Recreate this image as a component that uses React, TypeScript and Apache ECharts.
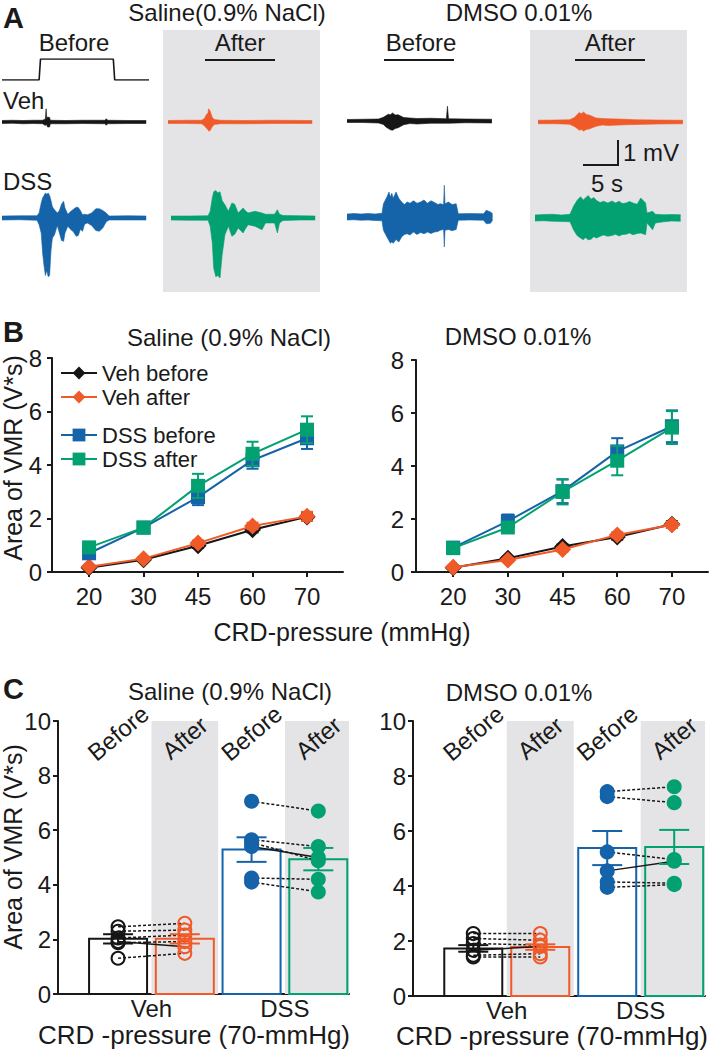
import React, { useEffect, useRef } from "react";
import * as echarts from "echarts";

// ---------------- Panel A: recordings (time s, upper envelope mV, lower envelope mV) -------------
const STIM_TRACE = [[0, 0], [5.3, 0], [5.5, 70], [15.9, 70], [16.1, 0], [21, 0]];

const SAL_VEH_BEFORE = [
  [0, 0.06, -0.06], [1.5, 0.07, -0.05], [3, 0.06, -0.07], [4.5, 0.07, -0.06], [5.8, 0.07, -0.07],
  [6.2, 0.12, -0.14], [6.3, 0.53, -0.1], [6.4, 0.12, -0.12], [6.5, 0.2, -0.2], [6.8, 0.18, -0.2],
  [6.9, 0.07, -0.07], [9, 0.06, -0.07], [11.5, 0.07, -0.06], [14.7, 0.07, -0.07], [14.9, 0.13, -0.13],
  [15.1, 0.07, -0.07], [18, 0.06, -0.06], [20.6, 0.06, -0.06],
];
const SAL_VEH_AFTER = [
  [0, 0.06, -0.06], [2.5, 0.07, -0.06], [4.8, 0.07, -0.07], [5.2, 0.14, -0.15], [5.5, 0.3, -0.25],
  [5.7, 0.35, -0.3], [5.8, 0.53, -0.36], [6.0, 0.45, -0.35], [6.3, 0.2, -0.2], [6.6, 0.1, -0.1],
  [7.5, 0.07, -0.07], [11, 0.06, -0.07], [15, 0.07, -0.06], [20.6, 0.06, -0.06],
];
const SAL_DSS_BEFORE = [
  [0, 0.08, -0.08], [2.5, 0.09, -0.07], [5.0, 0.09, -0.09], [5.3, 0.2, -0.27], [5.6, 0.6, -0.6],
  [5.8, 0.8, -1.4], [6.0, 0.9, -1.9], [6.2, 1.0, -2.3], [6.4, 0.95, -2.1], [6.6, 1.0, -2.35],
  [6.8, 0.9, -2.3], [7.0, 0.7, -1.3], [7.2, 0.45, -0.8], [7.5, 0.33, -0.67], [7.9, 0.2, -0.3],
  [8.2, 0.3, -0.6], [8.5, 0.55, -0.9], [8.8, 0.67, -0.93], [9.0, 0.4, -0.6], [9.4, 0.15, -0.33],
  [9.85, 0.27, -0.47], [10.2, 0.35, -0.55], [10.6, 0.43, -0.73], [10.9, 0.42, -0.7], [11.2, 0.3, -0.45],
  [11.5, 0.13, -0.53], [11.8, 0.15, -0.25], [12.2, 0.13, -0.2], [12.8, 0.2, -0.3], [13.4, 0.37, -0.5],
  [13.9, 0.37, -0.53], [14.4, 0.3, -0.4], [14.9, 0.2, -0.15], [15.3, 0.08, -0.08], [18, 0.09, -0.08],
  [20.6, 0.08, -0.08],
];
const SAL_DSS_AFTER = [
  [0, 0.08, -0.08], [2.5, 0.08, -0.09], [5.3, 0.09, -0.09], [5.6, 0.27, -0.33], [5.9, 0.8, -1.0],
  [6.1, 1.05, -2.0], [6.4, 1.1, -2.35], [6.7, 1.0, -2.3], [7.0, 1.05, -2.4], [7.3, 0.7, -1.5],
  [7.7, 0.53, -0.67], [8.2, 0.27, -0.33], [8.7, 0.6, -0.73], [9.1, 0.55, -0.65], [9.6, 0.2, -0.4],
  [10.3, 0.4, -0.6], [10.6, 0.3, -0.45], [11.0, 0.2, -0.27], [12.0, 0.27, -0.33], [13.0, 0.2, -0.47],
  [13.5, 0.15, -0.2], [14.8, 0.15, -0.2], [15.2, 0.33, -0.6], [15.5, 0.15, -0.2], [16.0, 0.1, -0.1],
  [18.5, 0.09, -0.08], [20.6, 0.08, -0.08],
];
const DMSO_VEH_BEFORE = [
  [0, 0.06, -0.06], [2.2, 0.07, -0.06], [4.5, 0.08, -0.08], [5.2, 0.15, -0.14], [5.6, 0.22, -0.25],
  [5.9, 0.27, -0.3], [6.2, 0.25, -0.35], [6.5, 0.32, -0.37], [6.9, 0.24, -0.3], [7.3, 0.25, -0.27],
  [8.1, 0.14, -0.15], [9, 0.12, -0.1], [10, 0.1, -0.12], [12, 0.11, -0.09], [14.2, 0.09, -0.09],
  [14.35, 0.59, -0.09], [14.5, 0.09, -0.09], [17, 0.08, -0.07], [20.7, 0.07, -0.08],
];
const DMSO_VEH_AFTER = [
  [0, 0.07, -0.07], [2.5, 0.08, -0.07], [4.5, 0.09, -0.09], [5.2, 0.18, -0.18], [5.6, 0.3, -0.26],
  [5.9, 0.38, -0.33], [6.2, 0.33, -0.3], [6.5, 0.4, -0.36], [6.9, 0.3, -0.3], [7.3, 0.28, -0.28],
  [8.3, 0.16, -0.17], [9.2, 0.14, -0.12], [10, 0.13, -0.14], [12.5, 0.11, -0.11], [14, 0.09, -0.1],
  [17, 0.08, -0.08], [20.7, 0.07, -0.07],
];
const DMSO_DSS_BEFORE = [
  [0, 0.12, -0.12], [1, 0.14, -0.11], [2, 0.12, -0.13], [3, 0.14, -0.12], [4, 0.12, -0.14],
  [5.0, 0.15, -0.15], [5.2, 0.53, -0.53], [5.7, 0.8, -0.8], [6.0, 1.0, -0.95], [6.2, 0.8, -1.05],
  [6.4, 0.95, -1.0], [6.6, 0.75, -1.05], [7.0, 1.0, -0.9], [7.4, 0.75, -1.0], [7.8, 0.6, -0.8],
  [8.2, 0.5, -0.7], [8.6, 0.6, -0.67], [9.0, 0.55, -0.72], [9.5, 0.65, -0.6], [10.0, 0.55, -0.7],
  [10.5, 0.6, -0.62], [11.0, 0.68, -0.67], [11.5, 0.55, -0.6], [12.0, 0.65, -0.66], [12.5, 0.58, -0.6],
  [13.0, 0.5, -0.58], [13.3, 0.53, -0.53], [13.8, 0.5, -0.5], [13.9, 1.27, -1.2], [14.0, 0.53, -0.53],
  [14.5, 0.6, -0.5], [15.0, 0.5, -0.55], [15.6, 0.53, -0.5], [15.9, 0.13, -0.13], [17.5, 0.14, -0.12],
  [19.5, 0.13, -0.13], [19.9, 0.27, -0.27], [20.5, 0.2, -0.25], [20.8, 0.13, -0.13],
];
const DMSO_DSS_AFTER = [
  [0, 0.12, -0.12], [1.2, 0.14, -0.11], [2.5, 0.15, -0.13], [3.8, 0.12, -0.14], [5.0, 0.15, -0.15],
  [5.5, 0.47, -0.47], [6.0, 0.7, -0.7], [6.5, 0.85, -0.8], [6.9, 0.72, -0.87], [7.2, 0.8, -0.78],
  [7.6, 0.9, -0.87], [8.0, 0.75, -0.85], [8.4, 0.82, -0.75], [8.8, 0.7, -0.8], [9.3, 0.62, -0.73],
  [9.8, 0.67, -0.68], [10.4, 0.6, -0.73], [11, 0.68, -0.7], [11.5, 0.6, -0.65], [12, 0.67, -0.72],
  [12.5, 0.58, -0.66], [13, 0.6, -0.65], [13.5, 0.66, -0.6], [14, 0.6, -0.67], [14.6, 0.55, -0.62],
  [15.1, 0.8, -0.6], [15.8, 0.6, -0.67], [16.0, 0.2, -0.2], [16.8, 0.27, -0.47], [17.2, 0.15, -0.2],
  [18.4, 0.13, -0.15], [19.5, 0.14, -0.12], [20.8, 0.13, -0.13],
];

// ---------------- Panel B: VMR vs CRD pressure ----------------
const PRESSURES = ["20", "30", "45", "60", "70"];
const B_SAL_VEH_BEFORE = [0.16, 0.46, 0.98, 1.58, 2.06];
const B_SAL_VEH_BEFORE_SEM = [0.04, 0.05, 0.08, 0.1, 0.14];
const B_SAL_VEH_AFTER = [0.2, 0.5, 1.08, 1.72, 2.08];
const B_SAL_VEH_AFTER_SEM = [0.05, 0.06, 0.1, 0.12, 0.17];
const B_SAL_DSS_BEFORE = [0.7, 1.66, 2.8, 4.18, 5.0];
const B_SAL_DSS_BEFORE_SEM = [0.12, 0.14, 0.3, 0.32, 0.4];
const B_SAL_DSS_AFTER = [0.92, 1.66, 3.22, 4.42, 5.32];
const B_SAL_DSS_AFTER_SEM = [0.1, 0.14, 0.45, 0.45, 0.5];

const B_DMSO_VEH_BEFORE = [0.16, 0.52, 0.96, 1.32, 1.8];
const B_DMSO_VEH_BEFORE_SEM = [0.04, 0.06, 0.08, 0.1, 0.12];
const B_DMSO_VEH_AFTER = [0.18, 0.45, 0.85, 1.4, 1.78];
const B_DMSO_VEH_AFTER_SEM = [0.05, 0.06, 0.08, 0.1, 0.12];
const B_DMSO_DSS_BEFORE = [0.92, 1.92, 3.05, 4.55, 5.5];
const B_DMSO_DSS_BEFORE_SEM = [0.1, 0.25, 0.45, 0.5, 0.6];
const B_DMSO_DSS_AFTER = [0.9, 1.68, 3.02, 4.2, 5.45];
const B_DMSO_DSS_AFTER_SEM = [0.1, 0.2, 0.47, 0.55, 0.62];

// ---------------- Panel C: 70 mmHg ----------------
const C_GROUPS = ["Veh", "DSS"];
const C_COLUMNS = ["Before", "After", "Before", "After"];
const C_SAL_MEAN = [2.02, 2.02, 5.29, 4.94];
const C_SAL_SEM = [0.17, 0.17, 0.45, 0.41];
const C_SAL_VEH_BEFORE = [2.46, 2.3, 2.05, 1.92, 1.88, 1.31];
const C_SAL_VEH_AFTER = [2.59, 2.34, 2.16, 1.73, 1.92, 1.49];
const C_SAL_DSS_BEFORE = [7.06, 5.65, 5.55, 5.4, 4.25, 4.1];
const C_SAL_DSS_AFTER = [6.7, 5.4, 4.88, 5.0, 4.2, 3.74];

const C_DMSO_MEAN = [1.73, 1.78, 5.38, 5.42];
const C_DMSO_SEM = [0.12, 0.1, 0.62, 0.62];
const C_DMSO_VEH_BEFORE = [2.27, 2.09, 1.91, 1.66, 1.48, 1.42];
const C_DMSO_VEH_AFTER = [2.27, 2.03, 1.85, 1.8, 1.54, 1.42];
const C_DMSO_DSS_BEFORE = [7.43, 7.25, 5.24, 4.55, 4.15, 3.95];
const C_DMSO_DSS_AFTER = [7.61, 7.03, 4.96, 4.9, 4.1, 4.05];
const SOLID_PAIR = 3; // the one animal drawn with a solid connector

// ---------------- styling ----------------
const FONT = "'Liberation Sans', Arial, Helvetica, sans-serif";
const TXT = "#1a1a1a";
const BLACK = "#161616";
const ORANGE = "#F05A28";
const BLUE = "#1563A9";
const GREEN = "#03A072";
const GREY = "#E4E4E6";
const C_COLORS = [BLACK, ORANGE, BLUE, GREEN];

function buildOption() {
  const grid: any[] = [];
  const xAxis: any[] = [];
  const yAxis: any[] = [];
  const series: any[] = [];

  const hiddenGrid = (left: number, top: number, width: number, height: number,
    xmin: number, xmax: number, ymin: number, ymax: number) => {
    const i = grid.length;
    grid.push({ left, top, width, height });
    xAxis.push({ gridIndex: i, type: "value", min: xmin, max: xmax, show: false });
    yAxis.push({ gridIndex: i, type: "value", min: ymin, max: ymax, show: false });
    return i;
  };

  // ---- Panel A traces
  const MV = 25; // px per mV (scale bar)
  const SEC = 7; // px per s (scale bar)
  const gs = hiddenGrid(2, 59, 21 * SEC, 21, 0, 21, 0, 70);
  series.push({
    type: "line", xAxisIndex: gs, yAxisIndex: gs, data: STIM_TRACE, symbol: "none",
    lineStyle: { color: BLACK, width: 1.6 }, silent: true,
  });
  const traces = [
    { d: SAL_VEH_BEFORE, c: BLACK, left: 2, base: 122 },
    { d: SAL_VEH_AFTER, c: ORANGE, left: 168, base: 122 },
    { d: SAL_DSS_BEFORE, c: BLUE, left: 2, base: 218 },
    { d: SAL_DSS_AFTER, c: GREEN, left: 171, base: 218 },
    { d: DMSO_VEH_BEFORE, c: BLACK, left: 347, base: 121 },
    { d: DMSO_VEH_AFTER, c: ORANGE, left: 538, base: 122 },
    { d: DMSO_DSS_BEFORE, c: BLUE, left: 347, base: 217 },
    { d: DMSO_DSS_AFTER, c: GREEN, left: 535, base: 218 },
  ];
  traces.forEach((t) => {
    const g = hiddenGrid(t.left, t.base - 1.4 * MV, 21 * SEC, 4 * MV, 0, 21, -2.6, 1.4);
    [1, 2].forEach((k) =>
      series.push({
        type: "line", xAxisIndex: g, yAxisIndex: g, symbol: "none", silent: true,
        data: t.d.map((p) => [p[0], p[k]]),
        lineStyle: { color: t.c, width: 0.6 },
        areaStyle: { color: t.c, opacity: 1 },
      })
    );
  });

  const axisLine = { show: true, onZero: false, lineStyle: { color: TXT, width: 2 } };
  const tick = { show: true, inside: false, length: 5, lineStyle: { color: TXT, width: 2 } };
  const labelStyle = { fontSize: 24, fontFamily: FONT, color: TXT };

  // ---- Panel B
  const bGrid = (left: number, top: number, width: number, height: number, ym: number) => {
    const i = grid.length;
    grid.push({ left, top, width, height });
    xAxis.push({
      gridIndex: i, type: "value", min: -0.68, max: 4.66, axisLine,
      axisTick: { ...tick, customValues: [0, 1, 2, 3, 4] },
      axisLabel: { ...labelStyle, customValues: [0, 1, 2, 3, 4], margin: 12,
        formatter: (v: number) => PRESSURES[Math.round(v)] },
      splitLine: { show: false },
    });
    yAxis.push({
      gridIndex: i, type: "value", min: 0, max: 8, interval: 2, axisLine, axisTick: tick,
      axisLabel: { ...labelStyle, margin: ym }, splitLine: { show: false },
    });
    return i;
  };

  const errRender = (color: string, cap: number) => (params: any, api: any) => {
    const x = api.value(0), m = api.value(1), s = api.value(2);
    const a = api.coord([x, m + s]);
    const b = api.coord([x, m - s]);
    const st = { stroke: color, lineWidth: 2 };
    return {
      type: "group",
      children: [
        { type: "line", shape: { x1: a[0], y1: a[1], x2: b[0], y2: b[1] }, style: st },
        { type: "line", shape: { x1: a[0] - cap / 2, y1: a[1], x2: a[0] + cap / 2, y2: a[1] }, style: st },
        { type: "line", shape: { x1: b[0] - cap / 2, y1: b[1], x2: b[0] + cap / 2, y2: b[1] }, style: st },
      ],
    };
  };

  const bSets = [
    {
      g: bGrid(52, 358, 291, 214, 10),
      s: [
        { name: "Veh before", v: B_SAL_VEH_BEFORE, e: B_SAL_VEH_BEFORE_SEM, c: BLACK, sym: "diamond", size: 17 },
        { name: "Veh after", v: B_SAL_VEH_AFTER, e: B_SAL_VEH_AFTER_SEM, c: ORANGE, sym: "diamond", size: 17 },
        { name: "DSS before", v: B_SAL_DSS_BEFORE, e: B_SAL_DSS_BEFORE_SEM, c: BLUE, sym: "rect", size: 14 },
        { name: "DSS after", v: B_SAL_DSS_AFTER, e: B_SAL_DSS_AFTER_SEM, c: GREEN, sym: "rect", size: 14 },
      ],
    },
    {
      g: bGrid(416, 360, 292, 212, 12),
      s: [
        { name: "Veh before", v: B_DMSO_VEH_BEFORE, e: B_DMSO_VEH_BEFORE_SEM, c: BLACK, sym: "diamond", size: 17 },
        { name: "Veh after", v: B_DMSO_VEH_AFTER, e: B_DMSO_VEH_AFTER_SEM, c: ORANGE, sym: "diamond", size: 17 },
        { name: "DSS before", v: B_DMSO_DSS_BEFORE, e: B_DMSO_DSS_BEFORE_SEM, c: BLUE, sym: "rect", size: 14 },
        { name: "DSS after", v: B_DMSO_DSS_AFTER, e: B_DMSO_DSS_AFTER_SEM, c: GREEN, sym: "rect", size: 14 },
      ],
    },
  ];
  bSets.forEach((set) => {
    set.s.forEach((s, k) => {
      series.push({
        type: "line", name: s.name, xAxisIndex: set.g, yAxisIndex: set.g,
        data: s.v.map((v, i) => [i, v]), symbol: s.sym, symbolSize: s.size,
        lineStyle: { color: s.c, width: 2 }, itemStyle: { color: s.c }, z: 3 + k,
      });
      series.push({
        type: "custom", xAxisIndex: set.g, yAxisIndex: set.g, silent: true, z: 3 + k,
        data: s.v.map((v, i) => [i, v, s.e[i]]), renderItem: errRender(s.c, 12),
      });
    });
  });

  // ---- Panel C
  const C_XMIN = -0.9;
  const C_XMAX = 3.46;
  const cGrid = (left: number, top: number, width: number, height: number) => {
    const i = grid.length;
    grid.push({ left, top, width, height });
    xAxis.push({
      gridIndex: i, type: "value", min: C_XMIN, max: C_XMAX, axisLine,
      axisTick: { show: false },
      axisLabel: { ...labelStyle, lineHeight: 20, customValues: [0.5, 2.5], margin: 4,
        formatter: (v: number) => C_GROUPS[Math.round((v - 0.5) / 2)] },
      splitLine: { show: false },
    });
    yAxis.push({
      gridIndex: i, type: "value", min: 0, max: 10, interval: 2, axisLine, axisTick: tick,
      axisLabel: { ...labelStyle, margin: 7 }, splitLine: { show: false },
    });
    return i;
  };

  const cSets = [
    { g: cGrid(58, 721, 291, 273), mean: C_SAL_MEAN, sem: C_SAL_SEM,
      pts: [C_SAL_VEH_BEFORE, C_SAL_VEH_AFTER, C_SAL_DSS_BEFORE, C_SAL_DSS_AFTER] },
    { g: cGrid(413, 721, 292, 275), mean: C_DMSO_MEAN, sem: C_DMSO_SEM,
      pts: [C_DMSO_VEH_BEFORE, C_DMSO_VEH_AFTER, C_DMSO_DSS_BEFORE, C_DMSO_DSS_AFTER] },
  ];
  cSets.forEach((set) => {
    const ax = { xAxisIndex: set.g, yAxisIndex: set.g };
    // grey "after" bands
    series.push({
      type: "custom", ...ax, silent: true, z: 1,
      data: [[0.5, 1.5], [2.5, C_XMAX]],
      renderItem: (p: any, api: any) => {
        const a = api.coord([api.value(0), 10]);
        const b = api.coord([api.value(1), 0]);
        return { type: "rect", shape: { x: a[0], y: a[1], width: b[0] - a[0], height: b[1] - a[1] },
          style: { fill: GREY } };
      },
    });
    // column labels
    series.push({
      type: "custom", ...ax, silent: true, z: 2,
      data: C_COLUMNS.map((_, i) => [i]),
      renderItem: (p: any, api: any) => {
        const name = C_COLUMNS[p.dataIndex];
        const pt = api.coord([api.value(0), name === "Before" ? 9.56 : 9.38]);
        return { type: "text", x: pt[0], y: pt[1], rotation: (40 * Math.PI) / 180,
          style: { text: name, font: `24px ${FONT}`, fill: TXT, align: "center", verticalAlign: "middle" } };
      },
    });
    // hollow bars
    series.push({
      type: "custom", ...ax, silent: true, z: 3,
      data: set.mean.map((v, i) => [i, v]),
      renderItem: (p: any, api: any) => {
        const a = api.coord([api.value(0), api.value(1)]);
        const b = api.coord([api.value(0), 0]);
        return { type: "rect", shape: { x: a[0] - 29, y: a[1], width: 58, height: b[1] - a[1] },
          style: { fill: "none", stroke: C_COLORS[p.dataIndex], lineWidth: 2 } };
      },
    });
    // paired connectors
    const pairs: number[][] = [];
    [0, 1].forEach((grp) => {
      const before = set.pts[grp * 2];
      const after = set.pts[grp * 2 + 1];
      before.forEach((v, k) => pairs.push([grp * 2, v, grp * 2 + 1, after[k], k]));
    });
    series.push({
      type: "custom", ...ax, silent: true, z: 4,
      data: pairs,
      renderItem: (p: any, api: any) => {
        const a = api.coord([api.value(0), api.value(1)]);
        const b = api.coord([api.value(2), api.value(3)]);
        const solid = api.value(4) === SOLID_PAIR;
        return { type: "line", shape: { x1: a[0], y1: a[1], x2: b[0], y2: b[1] },
          style: { stroke: BLACK, lineWidth: 1.5, lineDash: solid ? null : [3, 2] } };
      },
    });
    // individual animals
    set.pts.forEach((arr, col) => {
      const filled = col >= 2;
      series.push({
        type: "scatter", ...ax, silent: true, z: 5, symbol: "circle", symbolSize: 13,
        data: arr.map((v) => [col, v]),
        itemStyle: { color: filled ? C_COLORS[col] : "rgba(255,255,255,0)",
          borderColor: C_COLORS[col], borderWidth: 2, opacity: 1 },
      });
    });
    // SEM
    set.mean.forEach((m, col) => {
      series.push({
        type: "custom", ...ax, silent: true, z: 6,
        data: [[col, m, set.sem[col]]], renderItem: errRender(C_COLORS[col], 30),
      });
    });
  });

  const t = (text: string, x: number, y: number, size = 24, align = "center", extra: any = {}) => ({
    type: "text", x, y, ...extra,
    style: { text, font: `${size}px ${FONT}`, fill: TXT, align, verticalAlign: "middle", lineHeight: size },
  });
  const bold = (text: string, x: number, y: number) => ({
    type: "text", x, y,
    style: { text, font: `bold 29px ${FONT}`, fill: TXT, align: "left", verticalAlign: "middle" },
  });
  const ln = (x1: number, y1: number, x2: number, y2: number) => ({
    type: "line", shape: { x1, y1, x2, y2 }, style: { stroke: TXT, lineWidth: 2 },
  });

  const graphic = [
    { type: "rect", z: -10, shape: { x: 163, y: 30, width: 157, height: 262 }, style: { fill: GREY } },
    { type: "rect", z: -10, shape: { x: 530, y: 30, width: 157, height: 262 }, style: { fill: GREY } },
    bold("A", 3, 18),
    t("Saline(0.9% NaCl)", 227, 12),
    t("DMSO 0.01%", 519, 12),
    t("Before", 74, 42),
    t("After", 240, 42),
    t("Before", 421, 42),
    t("After", 610, 42),
    ln(205, 60, 275, 60),
    ln(384, 60, 454, 60),
    ln(575, 60, 645, 60),
    t("Veh", 3, 100, 24, "left"),
    t("DSS", 3, 181, 24, "left"),
    { type: "polyline", shape: { points: [[583, 165], [618, 165], [618, 140]] },
      style: { stroke: TXT, lineWidth: 2, fill: "none" } },
    t("1 mV", 623, 152, 24, "left"),
    t("5 s", 607, 183),
    bold("B", 3, 332),
    t("Saline (0.9% NaCl)", 229, 337),
    t("DMSO 0.01%", 518, 336),
    t("Area of VMR (V*s)", 13, 458, 25, "center", { rotation: Math.PI / 2 }),
    t("CRD-pressure (mmHg)", 342, 632, 25),
    bold("C", 3, 689),
    t("Saline (0.9% NaCl)", 230, 691),
    t("DMSO 0.01%", 519, 692),
    t("Area of VMR (V*s)", 13, 847, 25, "center", { rotation: Math.PI / 2 }),
    t("CRD -pressure (70-mmHg)", 194, 1035, 26, "center"),
    t("CRD -pressure (70-mmHg)", 552, 1036, 26, "center"),
  ];

  const legendBase = {
    orient: "vertical", itemWidth: 36, itemHeight: 16, itemGap: 2, padding: 0,
    selectedMode: false, textStyle: { fontSize: 22, fontFamily: FONT, color: TXT },
  };

  return {
    animation: false,
    backgroundColor: "#ffffff",
    textStyle: { fontFamily: FONT },
    grid, xAxis, yAxis, series, graphic,
    legend: [
      { ...legendBase, left: 60, top: 362, data: ["Veh before", "Veh after"] },
      { ...legendBase, left: 60, top: 424, data: ["DSS before", "DSS after"] },
    ],
  };
}

export default function App() {
  const ref = useRef<HTMLDivElement>(null);
  useEffect(() => {
    if (!ref.current) return;
    const chart = echarts.init(ref.current, null, { renderer: "svg" });
    chart.setOption(buildOption() as any);
    return () => chart.dispose();
  }, []);
  return (
    <div
      ref={ref}
      style={{ position: "absolute", left: 0, top: 0, width: 714, height: 1050, background: "#fff" }}
    />
  );
}
